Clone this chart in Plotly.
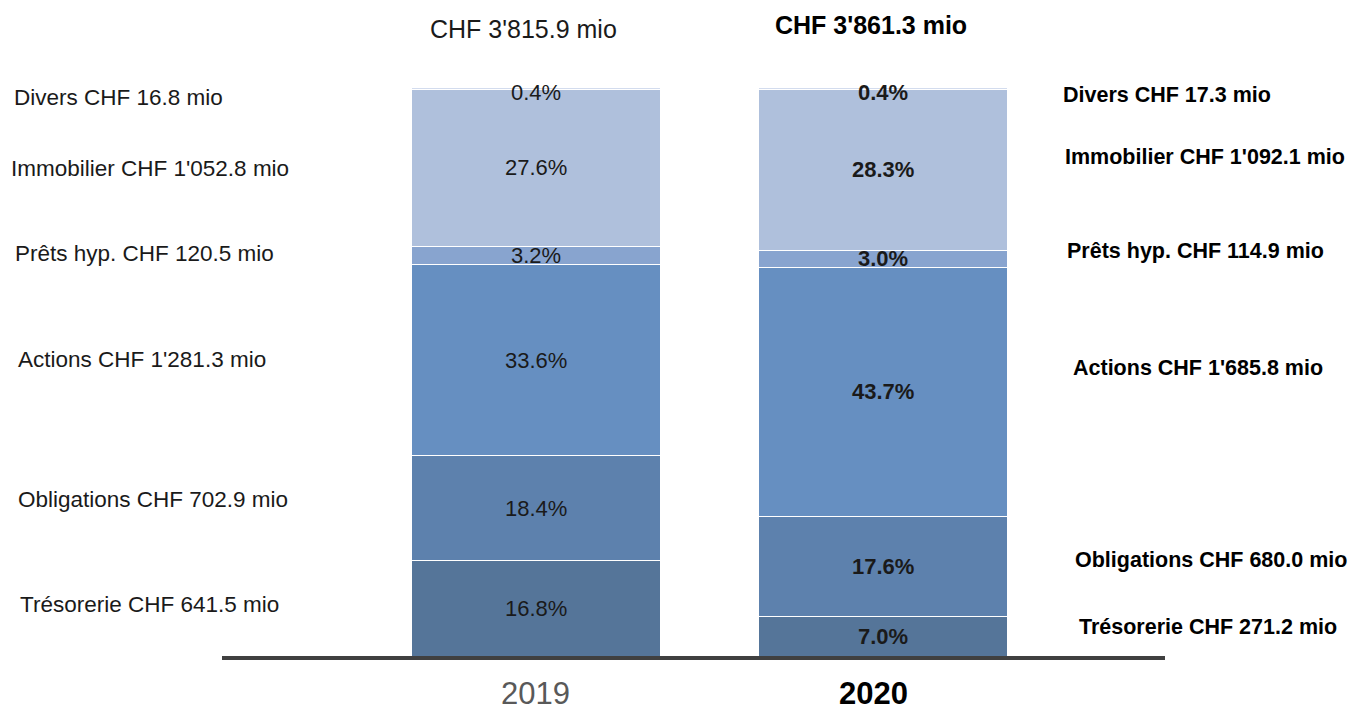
import plotly.graph_objects as go

years = ["2019", "2020"]
categories = ["Trésorerie", "Obligations", "Actions", "Prêts hyp.", "Immobilier", "Divers"]
pct_2019 = [16.8, 18.4, 33.6, 3.2, 27.6, 0.4]
pct_2020 = [7.0, 17.6, 43.7, 3.0, 28.3, 0.4]
amount_2019 = [641.5, 702.9, 1281.3, 120.5, 1052.8, 16.8]
amount_2020 = [271.2, 680.0, 1685.8, 114.9, 1092.1, 17.3]
totals = [3815.9, 3861.3]

colors = ["#557599", "#5d81ad", "#668fc1", "#88a4cf", "#afc0dc", "#d3dcee"]
FONT = "Liberation Sans, Arial, sans-serif"

# plot area in screen pixels (page adds an 8px body margin)
PX0, PX1, PY0, PY1 = 222, 1165, 87, 656
OFF = 8


def px_x(px):
    return (px - PX0) / (PX1 - PX0)


def px_y(py):
    return (PY1 - py) / (PY1 - PY0)


def chf(v):
    return f"{v:,.1f}".replace(",", "'")


fig = go.Figure()
for i, cat in enumerate(categories):
    fig.add_trace(go.Bar(
        x=[0, 1], y=[pct_2019[i], pct_2020[i]], name=cat,
        marker=dict(color=colors[i], line=dict(color="white", width=1)),
        width=0.7176, hoverinfo="skip",
    ))

annotations = []
# percentage labels in the segments
for xi, vals in enumerate([pct_2019, pct_2020]):
    cum = 0
    for j, v in enumerate(vals):
        mid = cum + v / 2
        cum += v
        txt = f"{v:.1f}%"
        if xi == 1:
            txt = f"<b>{txt}</b>"
        annotations.append(dict(
            x=xi, y=mid, xref="x", yref="y", text=txt, showarrow=False,
            font=dict(family=FONT, size=22, color="#1a1a1a"),
            yshift=-4 if j == len(vals) - 1 else 0,
        ))

# side labels (left: 2019, right: 2020)
left_x = [18, 16, 16, 13, 9, 12]
left_y = [604, 499, 359, 253, 169, 98]
right_x = [1077, 1073, 1071, 1065, 1063, 1061]
right_y = [627, 560, 368, 251, 157, 95]
for j, cat in enumerate(categories):
    annotations.append(dict(
        x=px_x(left_x[j]), y=px_y(left_y[j]), xref="paper", yref="paper",
        xanchor="left", yanchor="middle", showarrow=False,
        text=f"{cat} CHF {chf(amount_2019[j])} mio",
        font=dict(family=FONT, size=22.5, color="#1a1a1a"),
    ))
    annotations.append(dict(
        x=px_x(right_x[j]), y=px_y(right_y[j]), xref="paper", yref="paper",
        xanchor="left", yanchor="middle", showarrow=False,
        text=f"<b>{cat} CHF {chf(amount_2020[j])} mio</b>",
        font=dict(family=FONT, size=21.5, color="#000000"),
    ))

# totals
annotations.append(dict(
    x=0, y=px_y(29), xref="x", yref="paper", showarrow=False,
    text=f"CHF {chf(totals[0])} mio", yanchor="middle",
    font=dict(family=FONT, size=25, color="#1a1a1a"), xshift=-12,
))
annotations.append(dict(
    x=1, y=px_y(25), xref="x", yref="paper", showarrow=False,
    text=f"<b>CHF {chf(totals[1])} mio</b>", yanchor="middle",
    font=dict(family=FONT, size=25, color="#000000"), xshift=-12,
))
# year labels
annotations.append(dict(
    x=0, y=px_y(693), xref="x", yref="paper", showarrow=False, yanchor="middle",
    text=years[0], font=dict(family=FONT, size=31, color="#595959"),
))
annotations.append(dict(
    x=1, y=px_y(693), xref="x", yref="paper", showarrow=False, yanchor="middle",
    text=f"<b>{years[1]}</b>", xshift=-9,
    font=dict(family=FONT, size=31, color="#000000"),
))

W, H = 1366 - OFF, 711 - OFF
fig.update_layout(
    barmode="stack",
    width=W, height=H,
    margin=dict(l=PX0 - OFF, r=W - (PX1 - OFF), t=PY0 - OFF, b=H - (PY1 - OFF)),
    paper_bgcolor="white", plot_bgcolor="white",
    showlegend=False,
    annotations=annotations,
    xaxis=dict(range=[-0.9035, 1.814], showticklabels=False, showgrid=False,
               zeroline=False, showline=True, linecolor="#404040", linewidth=4,
               fixedrange=True),
    yaxis=dict(range=[0, 100], visible=False, fixedrange=True),
)

fig.write_html("out.html")
